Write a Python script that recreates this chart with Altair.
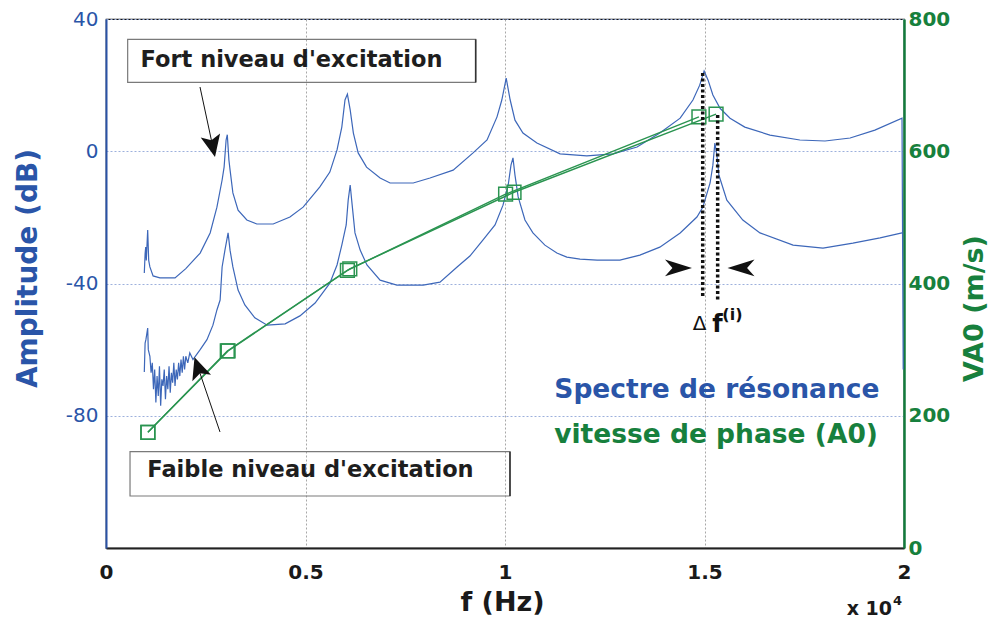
import altair as alt
import pandas as pd

# ---------------- data (f in units of 1e4 Hz) ----------------
fort_f = [0.096, 0.098, 0.0995, 0.101, 0.1045, 0.107, 0.110, 0.118, 0.135, 0.173, 0.200, 0.236, 0.261, 0.278,
          0.291, 0.296, 0.301, 0.304, 0.308, 0.311, 0.318, 0.331, 0.353, 0.378, 0.419, 0.461, 0.494, 0.536,
          0.561, 0.579, 0.591, 0.599, 0.605, 0.612, 0.620, 0.632, 0.653, 0.687, 0.712, 0.770, 0.812, 0.870,
          0.920, 0.955, 0.980, 0.992, 1.003, 1.013, 1.025, 1.045, 1.080, 1.138, 1.205, 1.271, 1.331, 1.388,
          1.439, 1.471, 1.488, 1.499, 1.509, 1.521, 1.539, 1.564, 1.601, 1.664, 1.739, 1.802, 1.865, 1.927,
          1.995, 1.998]
fort_db = [-36.8, -31, -29, -33, -23.8, -33, -35, -37.7, -38.3, -38.3, -35.5, -30.8, -24.7, -16.9,
           -8.7, -4.8, 3.4, 5.0, -2.6, -5.7, -12.6, -17.8, -20.8, -22, -22, -19.9, -16.9, -10.8,
           -6.3, 0.4, 7.3, 15.5, 17.3, 12.5, 5.5, -0.5, -4.8, -8.1, -9.6, -9.6, -8.1, -5.7,
           -0.5, 3.4, 10.4, 15.5, 22.1, 15.5, 9.4, 5.5, 2.5, -0.8, -1.4, -0.8, 1.3, 5.5,
           10, 15.5, 20, 24.3, 21.5, 17, 13, 10, 7.3, 4.9, 3.4, 3.1, 4, 6.4,
           10, -66]

faible_f = [0.096, 0.098, 0.100, 0.1045, 0.106, 0.110, 0.113, 0.116, 0.119, 0.122, 0.125, 0.128, 0.131,
            0.134, 0.137, 0.140, 0.143, 0.146, 0.149, 0.152, 0.155, 0.158, 0.161, 0.164, 0.167, 0.170,
            0.173, 0.176, 0.179, 0.182, 0.185, 0.188, 0.191, 0.194, 0.197, 0.200, 0.205, 0.210, 0.218,
            0.236, 0.253, 0.268, 0.278, 0.286, 0.291, 0.298, 0.306, 0.311, 0.318, 0.331, 0.348, 0.373,
            0.404, 0.449, 0.486, 0.524, 0.561, 0.579, 0.591, 0.602, 0.607, 0.612, 0.617, 0.624, 0.637,
            0.654, 0.687, 0.729, 0.795, 0.837, 0.880, 0.912, 0.945, 0.975, 0.995, 1.008, 1.015, 1.020,
            1.025, 1.033, 1.050, 1.070, 1.100, 1.130, 1.155, 1.188, 1.231, 1.288, 1.338, 1.388, 1.439,
            1.481, 1.496, 1.514, 1.521, 1.526, 1.531, 1.536, 1.556, 1.596, 1.639, 1.722, 1.797, 1.872,
            1.940, 1.995]
faible_db = [-66.8, -58, -57, -53.5, -60, -62, -67, -64, -72, -66, -76, -68, -74,
             -65, -77, -69, -71, -66, -75, -68, -72, -65, -73, -67, -70, -64,
             -71, -66, -69, -64, -68, -63, -67, -62, -66, -62, -64, -61, -63,
             -60, -57, -52.6, -48, -45, -35, -30, -24.7, -30, -35, -42, -46.5, -50.4,
             -52.6, -52.2, -49.8, -45.9, -39.9, -34.4, -28.4, -22.3, -14.8, -10.2, -16.3, -24.7, -29.9,
             -34.4, -39, -40.5, -40.5, -39.6, -35, -31.7, -26.8, -22.3, -16.3, -10.2, -4.2, -2,
             -7.2, -13.8, -20.8, -24.7, -28.4, -30.8, -32, -32.6, -32.9, -32.9, -31.4, -29, -24.7,
             -19.9, -16.9, -9.6, -4.2, 2.5, -1.1, -7.2, -14.8, -20.8, -24.7, -28.4, -29.3, -27.8,
             -26.2, -24.7]

va_fort_f = [0.105, 0.304, 0.605, 1.0015, 1.486]
va_fort_v = [175, 298, 420, 535, 652]
va_faible_f = [0.105, 0.306, 0.611, 1.0226, 1.529]
va_faible_v = [175, 298, 422, 538, 656]

x_ticks = [0, 0.5, 1, 1.5, 2]
db_ticks = [-80, -40, 0, 40]
va_ticks = [0, 200, 400, 600, 800]

# ---------------- styling ----------------
BLUE = "#3d67b9"
BLUE_AX = "#2a52a6"
BLUE_TXT = "#2a55a8"
GREEN = "#2a9450"
GREEN_AX = "#137a3c"
GREEN_TXT = "#17803d"
FONT = "DejaVu Sans"

curves = pd.concat([
    pd.DataFrame({"f": fort_f, "db": fort_db, "s": "fort", "i": range(len(fort_f))}),
    pd.DataFrame({"f": faible_f, "db": faible_db, "s": "faible", "i": range(len(faible_f))}),
])
va = pd.concat([
    pd.DataFrame({"f": va_fort_f, "v": va_fort_v, "s": "fort"}),
    pd.DataFrame({"f": va_faible_f, "v": va_faible_v, "s": "faible"}),
])

xscale = alt.Scale(domain=[0, 2], nice=False, zero=False)
dbscale = alt.Scale(domain=[-120, 40], nice=False, zero=False)
vascale = alt.Scale(domain=[0, 800], nice=False, zero=False)

x_axis = alt.Axis(orient="bottom", values=x_ticks, labelExpr="'' + datum.value", labelFont=FONT,
                  labelFontWeight="bold", labelFontSize=20, labelColor="#1a1a1a", labelPadding=14,
                  labelFlush=False, labelOverlap=False, ticks=False, domainColor="#222222",
                  domainWidth=2, grid=True, gridColor="#a8a8a8", gridDash=[2, 2], gridWidth=1,
                  title="f (Hz)", titleFont=FONT, titleFontSize=27, titleFontWeight="bold",
                  titleColor="#1a1a1a", titleX=396, titleY=54, titleAlign="center",
                  titleBaseline="middle")
db_axis = alt.Axis(orient="left", values=db_ticks, labelExpr="'' + datum.value", labelFont=FONT,
                   labelFontSize=20, labelColor=BLUE_TXT, labelPadding=8, labelOverlap=False,
                   ticks=False, domainColor=BLUE_AX, domainWidth=2, grid=True, gridColor="#9db0dc",
                   gridDash=[2, 2], gridWidth=1, title="Amplitude (dB)", titleFont=FONT,
                   titleFontSize=28, titleFontWeight="bold", titleColor=BLUE_TXT, titleAngle=270,
                   titleX=-78, titleY=249, titleAlign="center", titleBaseline="middle")
va_axis = alt.Axis(orient="right", values=va_ticks, labelFont=FONT, labelFontWeight="bold",
                   labelFontSize=20, labelColor=GREEN_TXT, labelPadding=4, labelOverlap=False,
                   ticks=False, domainColor=GREEN_AX, domainWidth=2.5, grid=False,
                   title="VA0 (m/s)", titleFont=FONT, titleFontSize=27, titleFontWeight="bold",
                   titleColor=GREEN_TXT, titleAngle=270, titleX=70, titleY=289, titleAlign="center",
                   titleBaseline="middle")

X = alt.X("f:Q", scale=xscale, axis=None)
Y = alt.Y("db:Q", scale=dbscale, axis=None)

# ---------------- blue spectra ----------------
spectra = alt.Chart(curves).mark_line(color=BLUE, strokeWidth=1.2).encode(
    x=alt.X("f:Q", scale=xscale, axis=x_axis),
    y=alt.Y("db:Q", scale=dbscale, axis=db_axis),
    detail="s:N", order="i:Q")

# ---------------- green phase velocity ----------------
va_line = alt.Chart(va).mark_line(color=GREEN, strokeWidth=1.4).encode(
    x=X, y=alt.Y("v:Q", scale=vascale, axis=va_axis), detail="s:N")
va_pts = alt.Chart(va).mark_point(shape="square", size=190, filled=False, color=GREEN,
                                  strokeWidth=1.5, opacity=1).encode(
    x=X, y=alt.Y("v:Q", scale=vascale, axis=None))

# ---------------- annotations (in data coordinates) ----------------
boxes = pd.DataFrame({"f": [0.0543, 0.0602], "f2": [0.9265, 1.0125],
                      "db": [33.86, -90.87], "db2": [20.85, -104.27]})
box_layer = alt.Chart(boxes).mark_rect(fillOpacity=0, stroke="#7a7a7a", strokeWidth=1.2).encode(
    x=X, x2="f2:Q", y=Y, y2="db2:Q")
box_edge = alt.Chart(boxes).mark_rule(color="#333333", strokeWidth=1.6).encode(
    x=alt.X("f2:Q", scale=xscale, axis=None), y=Y, y2="db2:Q")

box_text = pd.DataFrame({"f": [0.465, 0.5125], "db": [27.75, -96.4],
                         "t": ["Fort niveau d'excitation", "Faible niveau d'excitation"]})
box_text_layer = alt.Chart(box_text).mark_text(font=FONT, fontWeight="bold", fontSize=22.5,
                                               color="#1e1e1e", baseline="middle").encode(
    x=X, y=Y, text="t:N")

arrow_lines = pd.DataFrame({"f": [0.2356, 0.2857], "db": [19.43, -84.9],
                            "f2": [0.2674, 0.2308], "db2": [1.52, -65.45]})
arrow_line_layer = alt.Chart(arrow_lines).mark_rule(color="#111111", strokeWidth=1).encode(
    x=X, y=Y, x2="f2:Q", y2="db2:Q")
head_path = "M1,0 L-1,-0.9 L-0.55,0 L-1,0.9 Z"
heads = pd.DataFrame({"f": [0.2674, 0.2308], "db": [1.52, -65.45], "a": [77.9, 250.9]})
head_layer = alt.Chart(heads).mark_point(shape=head_path, filled=True, color="#111111",
                                          size=484, opacity=1).encode(
    x=X, y=Y, angle=alt.Angle("a:Q", scale=None))

dots = pd.DataFrame({"f": [1.4955, 1.533], "db": [23.67, 10.96], "db2": [-44.4, -45.0]})
dots_layer = alt.Chart(dots).mark_rule(color="#111111", strokeWidth=3.5, strokeDash=[3, 2.5]).encode(
    x=X, y=Y, y2="db2:Q")

dart_r = pd.DataFrame({"f": [1.4348], "db": [-35.31]})
dart_l = pd.DataFrame({"f": [1.5915], "db": [-35.31]})
dart_r_layer = alt.Chart(dart_r).mark_point(shape="M1,0 L-1,-0.62 L-0.45,0 L-1,0.62 Z", filled=True,
                                            color="#111111", size=729, opacity=1).encode(x=X, y=Y)
dart_l_layer = alt.Chart(dart_l).mark_point(shape="M-1,0 L1,-0.62 L0.45,0 L1,0.62 Z", filled=True,
                                            color="#111111", size=729, opacity=1).encode(x=X, y=Y)

delta = pd.DataFrame({"f": [1.4875], "db": [-52.4], "t": ["\u0394"]})
delta_layer = alt.Chart(delta).mark_text(font=FONT, fontSize=20, color="#111111",
                                         baseline="middle").encode(x=X, y=Y, text="t:N")
fchar = pd.DataFrame({"f": [1.5326], "db": [-54.67], "t": ["f"]})
f_layer = alt.Chart(fchar).mark_text(font=FONT, fontSize=24, fontWeight="bold", color="#111111",
                                     baseline="alphabetic").encode(x=X, y=Y, text="t:N")
sup = pd.DataFrame({"f": [1.5699], "db": [-49.38], "t": ["(i)"]})
sup_layer = alt.Chart(sup).mark_text(font=FONT, fontSize=16, fontWeight="bold", color="#111111",
                                     baseline="middle").encode(x=X, y=Y, text="t:N")

legend_txt = pd.DataFrame({"f": [1.531, 1.529], "db": [-72.2, -85.8],
                           "t": ["Spectre de résonance", "vitesse de phase (A0)"],
                           "c": [BLUE_TXT, GREEN_TXT]})
legend_layer = alt.Chart(legend_txt).mark_text(font=FONT, fontSize=26.5, fontWeight="bold",
                                               baseline="middle").encode(
    x=X, y=Y, text="t:N", color=alt.Color("c:N", scale=None))

exp_main = alt.Chart(pd.DataFrame({"t": ["x 10"]})).mark_text(
    font=FONT, fontSize=19, fontWeight="bold", color="#1a1a1a", align="right", baseline="middle"
).encode(x=alt.value(786), y=alt.value(590), text="t:N")
exp_sup = alt.Chart(pd.DataFrame({"t": ["4"]})).mark_text(
    font=FONT, fontSize=13, fontWeight="bold", color="#1a1a1a", align="left", baseline="middle"
).encode(x=alt.value(787), y=alt.value(582), text="t:N")

chart = alt.layer(
    spectra, va_line, va_pts, box_layer, box_edge, box_text_layer, arrow_line_layer, head_layer,
    dots_layer, dart_r_layer, dart_l_layer, delta_layer, f_layer, sup_layer, legend_layer,
    exp_main, exp_sup
).resolve_scale(x="independent", y="independent").properties(
    width=798, height=529,
    autosize=alt.AutoSizeParams(type="none"),
    padding={"left": 98, "top": 11, "right": 86, "bottom": 70},
).configure_view(stroke="#111111", strokeWidth=1.2)

chart.save("out.html", embed_options={"renderer": "svg", "actions": False})
